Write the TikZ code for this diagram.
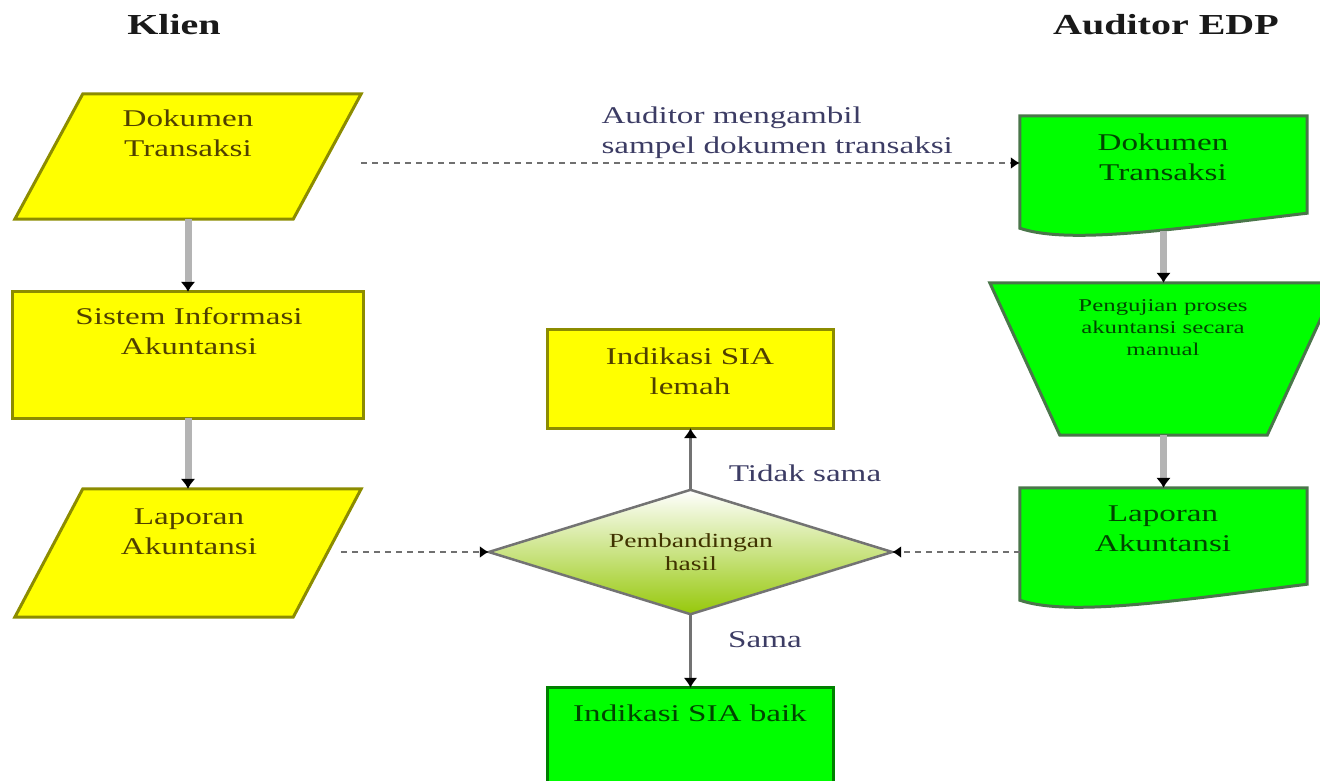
\documentclass[tikz,border=0pt]{standalone}
\usepackage{fontspec}
\setmainfont{Liberation Serif}[FakeStretch=1.38]
\usetikzlibrary{arrows.meta,calc}

\definecolor{kuning}{RGB}{255,255,0}
\definecolor{hijau}{RGB}{0,255,0}
\definecolor{garisK}{RGB}{140,140,0}
\definecolor{garisH}{RGB}{74,118,74}
\definecolor{garisB}{RGB}{0,128,0}
\definecolor{teksK}{RGB}{80,64,0}
\definecolor{teksH}{RGB}{0,70,0}
\definecolor{teksL}{RGB}{60,60,100}
\definecolor{alir}{RGB}{180,180,180}
\definecolor{putus}{RGB}{112,112,112}
\definecolor{belah}{RGB}{150,200,10}

\def\miring{68pt}
\def\landai{70pt}

\begin{document}
\begin{tikzpicture}[x=1pt,y=-1pt]
    \tikzstyle{frame}=[rectangle,draw=none,inner sep=0pt]
    \tikzstyle{klien shape}=[fill=kuning,draw=garisK,line width=3pt]
    \tikzstyle{edp shape}=[fill=hijau,draw=garisH,line width=3pt]
    \tikzstyle{box text}=[align=center,font=\fontsize{24}{30}\selectfont]
    \tikzstyle{small text}=[box text,font=\fontsize{20}{23}\selectfont]
    \tikzstyle{tiny text}=[box text,font=\fontsize{18}{22}\selectfont]
    \tikzstyle{label text}=[box text,text=teksL]
    \tikzstyle{title}=[font=\bfseries\fontsize{29}{34}\selectfont,text=black!90]
    \tikzstyle{flow}=[-{Latex[length=10pt,width=15pt,color=black]},draw=alir,line width=7pt]
    \tikzstyle{thin flow}=[-{Latex[length=10pt,width=14pt,color=black]},draw=black!55,line width=3pt]
    \tikzstyle{dash flow}=[-{Latex[length=9pt,width=12pt,color=black]},draw=putus,line width=1.6pt,dash pattern=on 6pt off 5pt]

    \useasboundingbox (0,0) rectangle (1320,780);

    % Frames of the shapes (the outlines are drawn below)
    \node[frame,minimum width=346pt,minimum height=125pt] (dtk) at (188,156.5) {};
    \node[frame,minimum width=350pt,minimum height=126pt] (sia) at (188,355) {};
    \node[frame,minimum width=346pt,minimum height=128pt] (lak) at (188,553) {};
    \node[frame,minimum width=286pt,minimum height=98pt] (lemah) at (690.5,379) {};
    \node[frame,minimum width=286pt,minimum height=124pt] (baik) at (690.5,750) {};
    \node[frame,minimum width=403pt,minimum height=124pt] (cmp) at (690.5,552) {};
    \node[frame,minimum width=287pt,minimum height=112pt] (dta) at (1163.5,172) {};
    \node[frame,minimum width=347pt,minimum height=152pt] (man) at (1163.5,359) {};
    \node[frame,minimum width=287pt,minimum height=112pt] (lap) at (1163.5,544) {};

    % Klien side
    \draw[klien shape] ([xshift=\miring]dtk.north west) -- (dtk.north east)
        -- ([xshift=-\miring]dtk.south east) -- (dtk.south west) -- cycle;
    \draw[klien shape] (sia.north west) rectangle (sia.south east);
    \draw[klien shape] ([xshift=\miring]lak.north west) -- (lak.north east)
        -- ([xshift=-\miring]lak.south east) -- (lak.south west) -- cycle;

    % Results in the middle
    \draw[klien shape] (lemah.north west) rectangle (lemah.south east);
    \draw[fill=hijau,draw=garisB,line width=3pt] (baik.north west) rectangle (baik.south east);
    \shade[top color=white,middle color=belah!22,bottom color=belah]
        (cmp.north) -- (cmp.east) -- (cmp.south) -- (cmp.west) -- cycle;
    \draw[draw=black!55,line width=2.5pt]
        (cmp.north) -- (cmp.east) -- (cmp.south) -- (cmp.west) -- cycle;

    % Auditor EDP side
    \draw[edp shape] (dta.south west) -- (dta.north west) -- (dta.north east)
        -- ([yshift=15pt]dta.south east)
        .. controls ($(dta.south west)+(160,0)$) and ($(dta.south west)+(50,17)$) .. (dta.south west)
        -- cycle;
    \draw[edp shape] (man.north west) -- (man.north east)
        -- ([xshift=-\landai]man.south east) -- ([xshift=\landai]man.south west) -- cycle;
    \draw[edp shape] (lap.south west) -- (lap.north west) -- (lap.north east)
        -- ([yshift=16pt]lap.south east)
        .. controls ($(lap.south west)+(160,0)$) and ($(lap.south west)+(50,17)$) .. (lap.south west)
        -- cycle;

    % Texts
    \node[title] (klien) at (174,25) {Klien};
    \node[title] (edp) at (1166,25) {Auditor EDP};
    \node[box text,text=teksK] (dtk-t) at (188,133) {Dokumen\\Transaksi};
    \node[box text,text=teksK] (sia-t) at (189,331) {Sistem Informasi\\Akuntansi};
    \node[box text,text=teksK] (lak-t) at (189,532) {Laporan\\Akuntansi};
    \node[box text,text=teksK] (lemah-t) at (690,371) {Indikasi SIA\\lemah};
    \node[box text,text=teksH] (baik-t) at (690,713) {Indikasi SIA baik};
    \node[small text,text=teksK!80!black] (cmp-t) at (691,552) {Pembandingan\\hasil};
    \node[box text,text=teksH] (dta-t) at (1163,157) {Dokumen\\Transaksi};
    \node[tiny text,text=teksH] (man-t) at (1163,328) {Pengujian proses\\akuntansi secara\\manual};
    \node[box text,text=teksH] (lap-t) at (1163,529) {Laporan\\Akuntansi};

    % Connect the shapes
    \draw[flow] (dtk.south) -- (sia.north);
    \draw[flow] (sia.south) -- (lak.north);
    \draw[flow] ([yshift=-3pt]dta.south) -- (man.north);
    \draw[flow] (man.south) -- (lap.north);
    \draw[thin flow] (cmp.north) -- (lemah.south);
    \draw[thin flow] (cmp.south) -- (baik.north);

    \coordinate (ambil-in) at ([yshift=9pt]dta.west);
    \draw[dash flow] (dtk.east |- ambil-in) -- (ambil-in);
    \coordinate (lak-out) at ([xshift=-20pt]lak.east);
    \draw[dash flow] (lak-out |- cmp.west) -- (cmp.west);
    \draw[dash flow] (lap.west |- cmp.east) -- (cmp.east);

    % Annotate the connectors
    \node[label text,anchor=west,align=left] (ambil) at (598,133) {Auditor mengambil\\sampel dokumen transaksi};
    \node[label text] (tidak) at (805,473) {Tidak sama};
    \node[label text] (sama) at (765,640) {Sama};
\end{tikzpicture}
\end{document}
